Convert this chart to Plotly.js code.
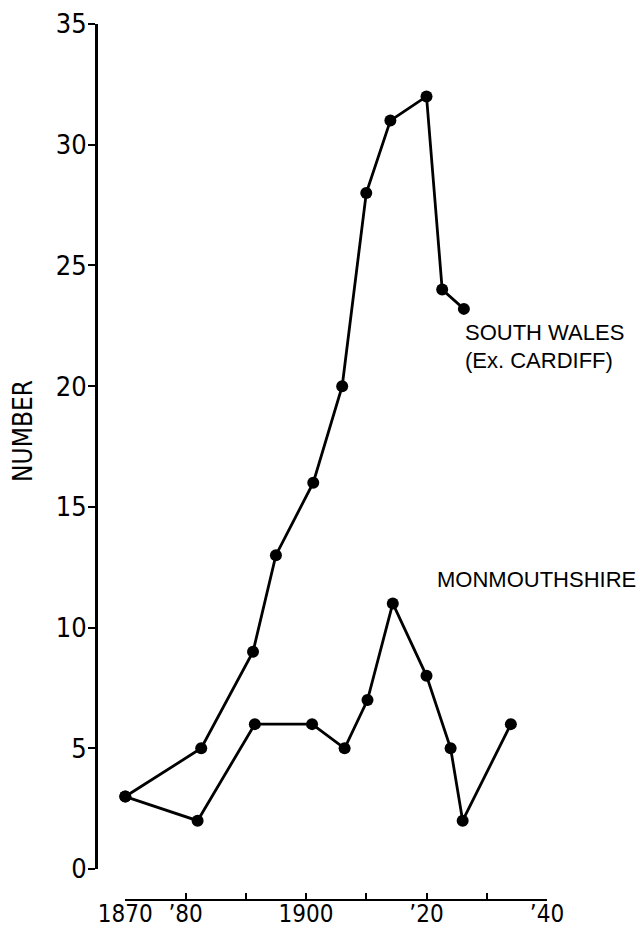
<!DOCTYPE html>
<html>
<head>
<meta charset="utf-8">
<script src="https://cdn.plot.ly/plotly-3.0.1.min.js"></script>
<style>html,body{margin:0;padding:0;background:#fff;}#chart{width:640px;height:930px;}</style>
</head>
<body>
<div id="chart"></div>
<script>
// South Wales (Ex. Cardiff)
const southWalesYears = [1870, 1882.6, 1891.2, 1895, 1901.2, 1906, 1910, 1914, 1920, 1922.6, 1926.2];
const southWalesValues = [3, 5, 9, 13, 16, 20, 28, 31, 32, 24, 23.2];
// Monmouthshire
const monmouthYears = [1870, 1882, 1891.5, 1901, 1906.4, 1910.2, 1914.4, 1920, 1924, 1926, 1934];
const monmouthValues = [3, 2, 6, 6, 5, 7, 11, 8, 5, 2, 6];
// Axis ticks
const xTickVals = [1870, 1880, 1890, 1900, 1910, 1920, 1930, 1940];
const xTickText = ['1870', '\u201980', '', '1900', '', '\u201920', '', '\u201940'];
const yTickVals = [0, 5, 10, 15, 20, 25, 30, 35];

const narrow = 'Liberation Sans Narrow, Arial Narrow, DejaVu Sans Condensed, Liberation Sans, sans-serif';
const regular = 'Liberation Sans, Arial, sans-serif';

const lineStyle = {color: '#000', width: 2.8};
const markerStyle = {color: '#000', size: 12};

const traces = [
  {x: southWalesYears, y: southWalesValues, mode: 'lines+markers', line: lineStyle, marker: markerStyle, cliponaxis: false, showlegend: false, name: 'South Wales (Ex. Cardiff)'},
  {x: monmouthYears, y: monmouthValues, mode: 'lines+markers', line: lineStyle, marker: markerStyle, cliponaxis: false, showlegend: false, name: 'Monmouthshire'}
];

const layout = {
  width: 640, height: 930,
  margin: {l: 96, r: 93, t: 24, b: 30},
  paper_bgcolor: '#fff', plot_bgcolor: '#fff',
  showlegend: false,
  xaxis: {
    domain: [0.065, 1], range: [1870, 1940], anchor: 'free', position: 0,
    tickvals: xTickVals, ticktext: xTickText,
    ticks: 'inside', ticklen: 6, tickwidth: 2, tickcolor: '#000',
    ticklabelstandoff: -8,
    showline: true, linecolor: '#000', linewidth: 2,
    showgrid: false, zeroline: false, automargin: false,
    tickfont: {family: narrow, size: 24, color: '#000'}
  },
  yaxis: {
    domain: [0.0354, 1], range: [0, 35], anchor: 'free', position: 0,
    tickvals: yTickVals,
    ticks: 'outside', ticklen: 7, tickwidth: 2, tickcolor: '#000',
    ticklabelstandoff: -4,
    showline: true, linecolor: '#000', linewidth: 2.5,
    showgrid: false, zeroline: false, automargin: false,
    tickfont: {family: narrow, size: 27, color: '#000'}
  },
  annotations: [
    {xref: 'paper', yref: 'paper', x: -0.162, y: 0.5354, xanchor: 'center', yanchor: 'middle', showarrow: false,
     textangle: -90, text: 'NUMBER', font: {family: narrow, size: 26, color: '#000'}},
    {xref: 'paper', yref: 'paper', x: 0.8137, y: 0.6484, xanchor: 'left', yanchor: 'middle', showarrow: false,
     text: 'SOUTH WALES', font: {family: regular, size: 22, color: '#000'}},
    {xref: 'paper', yref: 'paper', x: 0.8137, y: 0.6153, xanchor: 'left', yanchor: 'middle', showarrow: false,
     text: '(Ex. CARDIFF)', font: {family: regular, size: 22, color: '#000'}},
    {xref: 'paper', yref: 'paper', x: 0.7517, y: 0.3653, xanchor: 'left', yanchor: 'middle', showarrow: false,
     text: 'MONMOUTHSHIRE', font: {family: regular, size: 22, color: '#000'}}
  ]
};

Plotly.newPlot('chart', traces, layout, {staticPlot: true, displayModeBar: false});
</script>
</body>
</html>
